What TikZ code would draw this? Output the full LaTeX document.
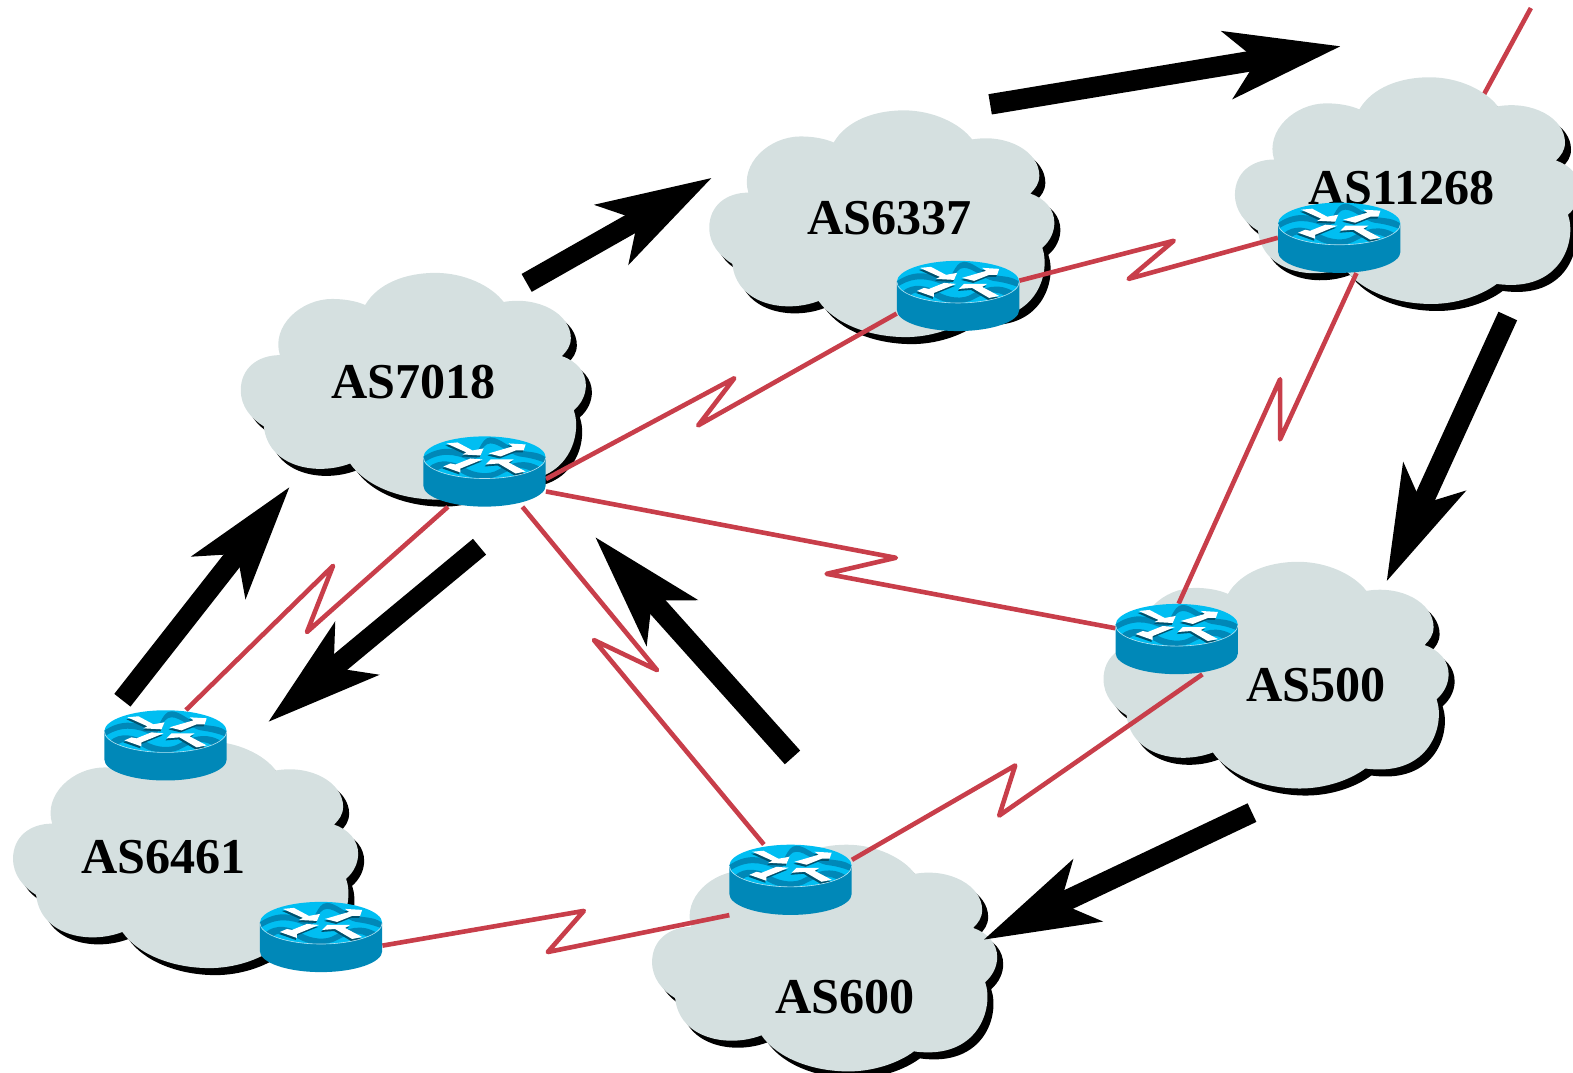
\documentclass[tikz,border=0pt]{standalone}
\usepackage{fontspec}
\setmainfont{Liberation Serif}
\usetikzlibrary{arrows.meta}

\definecolor{cloudgrey}{RGB}{213,224,224}
\definecolor{linkred}{RGB}{200,62,74}
\definecolor{routertop}{RGB}{0,190,242}
\definecolor{routerbody}{RGB}{0,136,184}

\def\cloudoutline{(-51,-81)
    .. controls (-38,-103) and (-10,-113) .. (19,-113)
    .. controls (48,-113) and (75,-100) .. (87,-84)
    .. controls (122,-90) and (154,-72) .. (154,-48)
    .. controls (154,-40) and (150,-35) .. (145,-30)
    .. controls (160,-25) and (169,-14) .. (169,-1)
    .. controls (169,8) and (165,17) .. (157,24)
    .. controls (166,50) and (150,102) .. (86,93)
    .. controls (70,105) and (45,113) .. (21,113)
    .. controls (-15,113) and (-50,100) .. (-66,77)
    .. controls (-100,90) and (-148,80) .. (-152,40)
    .. controls (-165,32) and (-175,20) .. (-175,4)
    .. controls (-175,-18) and (-158,-31) .. (-136,-31)
    .. controls (-145,-60) and (-115,-87) .. (-84,-87)
    .. controls (-72,-87) and (-60,-85) .. (-51,-81) -- cycle}
\def\routerarrows{(-38,-28) -- (-27,-29) -- (-12,-21) -- (-1,-23) -- (-4,-16) -- (-22,-17) -- (-18,-19) -- cycle
    (41,-27) -- (24,-28) -- (28,-25) -- (4,-18) -- (16,-15) -- (31,-21) -- (39,-21) -- cycle
    (-41,-5) -- (-24,1) -- (-24,-3) -- (-2,-12) -- (-14,-13) -- (-29,-7) -- (-34,-8) -- cycle
    (41,0) -- (31,2) -- (14,-8) -- (1,-7) -- (6,-12) -- (29,-12) -- (24,-9) -- cycle}

\tikzset{
    aslabel/.style={font=\bfseries\fontsize{50}{50}\selectfont, inner sep=0pt},
    routerbox/.style={minimum width=122pt, minimum height=70pt, inner sep=0pt},
    link/.style={draw=linkred, line width=4.6pt, line join=round},
    bigarrow/.style={line width=20.5pt, -{Stealth[length=113pt, width=66pt, inset=28pt]}},
    pics/ascloud/.style={code={
        \fill [black, shift={(6,7)}] \cloudoutline;
        \fill [cloudgrey] \cloudoutline;
    }},
    pics/router/.style={code={
        \fill [routerbody] (-61,-14) -- (-61,14) arc [x radius=61, y radius=21, start angle=180, end angle=0]
            -- (61,-14) -- cycle;
        \fill [routertop] (0,-14) ellipse [x radius=61, y radius=21];
        \begin{scope}
            \clip (0,-14) ellipse [x radius=61, y radius=21];
            \fill [routerbody] (-62,-14) .. controls (-45,-26) and (-30,-24) .. (-15,-17)
                .. controls (-5,-13) and (-5,-34) .. (6,-34)
                .. controls (15,-34) and (25,-23) .. (35,-21)
                .. controls (45,-19) and (55,-20) .. (62,-13)
                -- (62,-8) .. controls (50,-13) and (42,-14) .. (35,-15)
                .. controls (25,-17) and (15,-28) .. (6,-28)
                .. controls (-5,-28) and (-5,-7) .. (-15,-11)
                .. controls (-30,-18) and (-45,-20) .. (-62,-8) -- cycle;
            \fill [routerbody] (-56,-4) .. controls (-45,-14) and (-30,-10) .. (-20,-4)
                .. controls (-10,2) and (5,4) .. (14,-2)
                .. controls (25,-8) and (40,-14) .. (56,-4)
                -- (50,2) .. controls (38,-7) and (28,-3) .. (18,2)
                .. controls (5,10) and (-12,8) .. (-22,2)
                .. controls (-32,-4) and (-44,-7) .. (-50,2) -- cycle;
        \end{scope}
        \fill [routerbody!60!black, shift={(-1,2)}] \routerarrows;
        \fill [white] \routerarrows;
        \draw [white, line width=0.6pt, opacity=0.7] (-61,-14) arc [x radius=61, y radius=21, start angle=180, end angle=0];
    }},
}

\begin{document}
\begin{tikzpicture}[x=1pt, y=-1pt]
    \useasboundingbox (0,0) rectangle (1568,1069);

    % link leaving the picture, behind the cloud
    \coordinate (upstream) at (1526,8);
    \coordinate (upstreamend) at (1476,100);
    \draw [link] (upstream) -- (upstreamend);

    % clouds
    \pic at (415,385) {ascloud};
    \pic at (882,223) {ascloud};
    \pic at (1406,190) {ascloud};
    \pic at (1275,673) {ascloud};
    \pic at (188,852) {ascloud};
    \pic at (825,955) {ascloud};

    \node [aslabel] (as7018) at (412,381) {AS7018};
    \node [aslabel] (as6337) at (887,217) {AS6337};
    \node [aslabel] (as11268) at (1397,187) {AS11268};
    \node [aslabel] (as500) at (1312,683) {AS500};
    \node [aslabel] (as6461) at (163,854) {AS6461};
    \node [aslabel] (as600) at (842,994) {AS600};

    % routers
    \node [routerbox] (r7018) at (483,470) {};
    \node [routerbox] (r6337) at (955,295) {};
    \node [routerbox] (r11268) at (1335,237) {};
    \node [routerbox] (r500) at (1173,637) {};
    \node [routerbox] (r6461a) at (165,743) {};
    \node [routerbox] (r6461b) at (320,934) {};
    \node [routerbox] (r600) at (788,877) {};

    % serial links
    \draw [link] (r7018.-7) -- (732,377) -- (696,424) -- (r6337.-164);
    \draw [link] (r6337.14) -- (1170,240) -- (1125,278) -- (r11268.180);
    \draw [link] (r11268.-64) -- (1276,438) -- (1276,378) -- (r500.87);
    \draw [link] (r7018.-18) -- (893,556) -- (824,572) -- (r500.170);
    \draw [link] (r7018.-136) -- (306,630) -- (332,564) -- (r6461a.60);
    \draw [link] (r7018.-43) -- (655,668) -- (592,638) -- (r600.127);
    \draw [link] (r500.-54) -- (996,813) -- (1012,763) -- (r600.18);
    \draw [link] (r6461b.-8) -- (582,908) -- (546,949) -- (r600.-150);

    \pic at (r7018) {router};
    \pic at (r6337) {router};
    \pic at (r11268) {router};
    \pic at (r500) {router};
    \pic at (r6461a) {router};
    \pic at (r6461b) {router};
    \pic at (r600) {router};

    % traffic arrows
    \coordinate (tail1) at (525,282);
    \coordinate (tip1) at (710,177);
    \coordinate (tail2) at (987,104);
    \coordinate (tip2) at (1337,46);
    \coordinate (tail3) at (1503,315);
    \coordinate (tip3) at (1382,580);
    \coordinate (tail4) at (1248,810);
    \coordinate (tip4) at (980,937);
    \coordinate (tail5) at (790,755);
    \coordinate (tip5) at (593,535);
    \coordinate (tail6) at (122,698);
    \coordinate (tip6) at (289,485);
    \coordinate (tail7) at (478,545);
    \coordinate (tip7) at (267,720);
    \draw [bigarrow] (tail1) -- (tip1);
    \draw [bigarrow] (tail2) -- (tip2);
    \draw [bigarrow] (tail3) -- (tip3);
    \draw [bigarrow] (tail4) -- (tip4);
    \draw [bigarrow] (tail5) -- (tip5);
    \draw [bigarrow] (tail6) -- (tip6);
    \draw [bigarrow] (tail7) -- (tip7);
\end{tikzpicture}
\end{document}
